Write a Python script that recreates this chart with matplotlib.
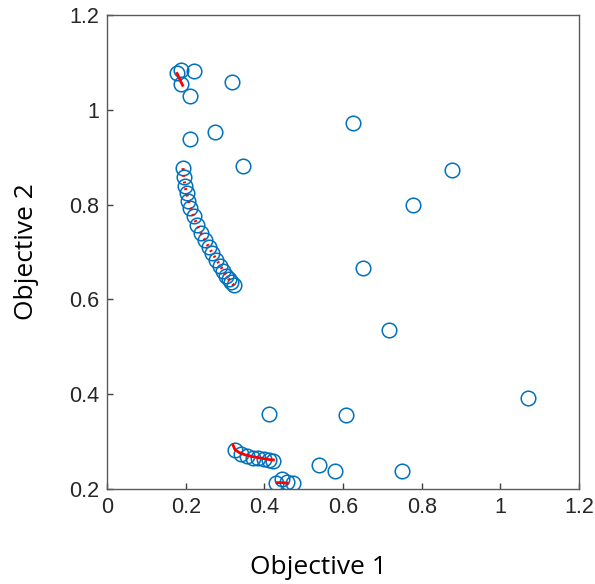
import numpy as np
import matplotlib
matplotlib.use("Agg")
import matplotlib.pyplot as plt

# population (objective values)
obj1 = [0.178, 0.188, 0.188, 0.221, 0.318, 0.211, 0.211, 0.275, 0.346,
        0.625, 0.877, 0.778, 0.651, 0.717, 1.070, 0.412, 0.608,
        0.539, 0.580, 0.750,
        0.325, 0.340, 0.355, 0.370, 0.385, 0.400, 0.412, 0.422,
        0.430, 0.445, 0.457, 0.472]
obj2 = [1.078, 1.085, 1.055, 1.082, 1.059, 1.029, 0.938, 0.953, 0.881,
        0.972, 0.873, 0.799, 0.666, 0.535, 0.392, 0.358, 0.356,
        0.251, 0.238, 0.238,
        0.282, 0.274, 0.270, 0.266, 0.264, 0.262, 0.261, 0.259,
        0.213, 0.220, 0.215, 0.213]

# middle arc of the front
arc_x = [0.193, 0.195, 0.198, 0.202, 0.207, 0.212, 0.220, 0.229, 0.238, 0.248,
         0.258, 0.268, 0.278, 0.288, 0.296, 0.303, 0.310, 0.316, 0.322]
arc_y = [0.877, 0.858, 0.840, 0.824, 0.808, 0.793, 0.775, 0.757, 0.741, 0.726,
         0.711, 0.697, 0.684, 0.671, 0.660, 0.650, 0.642, 0.636, 0.630]

# front segments (red)
top_x = [0.178, 0.185, 0.192]
top_y = [1.077, 1.064, 1.052]
low_x = [0.320, 0.325, 0.335, 0.350, 0.370, 0.390, 0.410, 0.423]
low_y = [0.293, 0.283, 0.277, 0.272, 0.268, 0.265, 0.262, 0.261]
end_x = [0.432, 0.445, 0.458]
end_y = [0.213, 0.213, 0.212]

blue = (0, 0.447, 0.741)

fig = plt.figure(figsize=(5.95, 5.84), dpi=100)
ax = fig.add_axes([0.18, 0.163, 0.793, 0.811])

ax.plot(obj1, obj2, "o", mfc="none", mec=blue, ms=10.5, mew=1.1)
ax.plot(arc_x, arc_y, "o", mfc="none", mec=blue, ms=10.5, mew=1.1)

ax.plot(top_x, top_y, "-", color="red", lw=2)
ax.plot(arc_x, arc_y, color="red", lw=2.2, linestyle=(0, (0.6, 1.6)))
ax.plot(low_x, low_y, "-", color="red", lw=2)
ax.plot(end_x, end_y, "-", color="red", lw=2)

ax.set_xlim(0, 1.2)
ax.set_ylim(0.2, 1.2)
ax.set_xticks([0, 0.2, 0.4, 0.6, 0.8, 1, 1.2])
ax.set_xticklabels(["0", "0.2", "0.4", "0.6", "0.8", "1", "1.2"])
ax.set_yticks([0.2, 0.4, 0.6, 0.8, 1, 1.2])
ax.set_yticklabels(["0.2", "0.4", "0.6", "0.8", "1", "1.2"])
ax.tick_params(direction="in", length=4, width=1, colors="#404040",
               labelsize=15.5, labelcolor="#262626", pad=6,
               labelfontfamily="Liberation Sans")
for sp in ax.spines.values():
    sp.set_color("#5a5a5a")
    sp.set_linewidth(1)

ax.set_xlabel("Objective 1", fontsize=19, family="Open Sans")
ax.set_ylabel("Objective 2", fontsize=19, family="Open Sans")
ax.xaxis.set_label_coords(0.447, -0.14)
ax.yaxis.set_label_coords(-0.145, 0.5)

fig.savefig("out.png", dpi=100)
